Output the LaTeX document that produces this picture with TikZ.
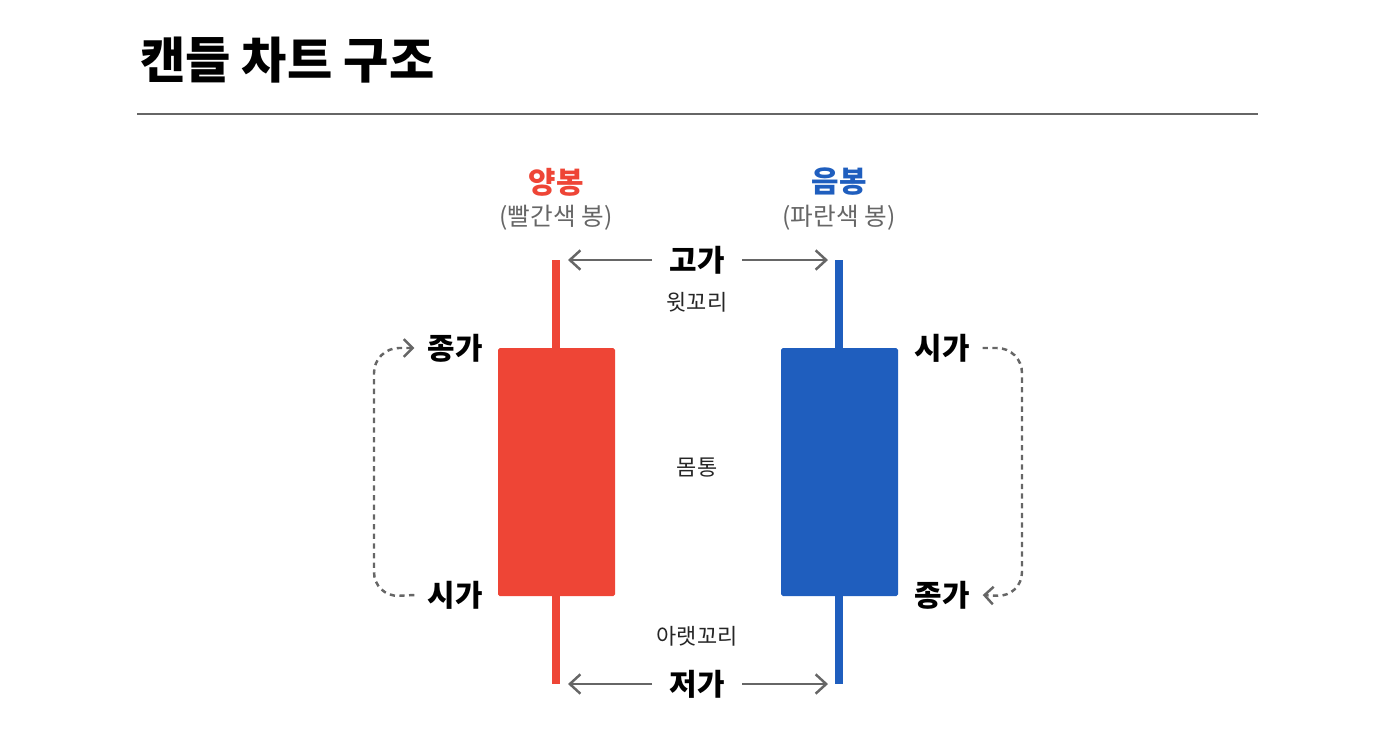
\documentclass[tikz,border=0pt]{standalone}
\usepackage{fontspec}
\newfontfamily\kr{Noto Sans CJK KR}
\usetikzlibrary{arrows.meta}
\definecolor{upc}{HTML}{EE4536}
\definecolor{dnc}{HTML}{1F5EBE}
\definecolor{lnc}{HTML}{666666}

\begin{document}
\begin{tikzpicture}[x=0.02cm, y=-0.02cm, font=\kr,
    price/.style={font=\kr\fontsize{17}{20}\selectfont\bfseries},
    part/.style={font=\kr\fontsize{12.5}{15}\selectfont, text=black!85},
    wick/.style={line width=0.16cm},
    body/.style={rounded corners=1pt},
    ptr/.style={draw=lnc, line width=1.4pt, -{Straight Barb[length=6pt,width=11pt]}},
    loop/.style={draw=lnc, line width=1.4pt, dash pattern=on 3pt off 2.5pt, rounded corners=0.5cm, -{Straight Barb[length=5pt,width=10pt]}}]

    \useasboundingbox (0,0) rectangle (1396,752);

    % title and rule
    \node[anchor=west, font=\kr\fontsize{28}{32}\selectfont\bfseries] (title) at (134,60) {캔들 차트 구조};
    \draw[lnc, line width=0.8pt] (137,114) -- (1258,114);

    % candles
    \draw[wick, upc] (556,260) -- (556,684);
    \fill[upc, body] (498,348) rectangle (615,596);
    \draw[wick, dnc] (839,260) -- (839,684);
    \fill[dnc, body] (781,348) rectangle (898,596);

    % headings
    \node[price, text=upc] (yang) at (556,182) {양봉};
    \node[part, text=lnc, font=\kr\fontsize{14}{16}\selectfont] (yangsub) at (556,218) {(빨간색 봉)};
    \node[price, text=dnc] (eum) at (839,182) {음봉};
    \node[part, text=lnc, font=\kr\fontsize{14}{16}\selectfont] (eumsub) at (839,218) {(파란색 봉)};

    % middle labels
    \node[price] (high) at (697,260) {고가};
    \node[part] (upper) at (697,302) {윗꼬리};
    \node[part] (bodytxt) at (697,468) {몸통};
    \node[part] (lower) at (697,636) {아랫꼬리};
    \node[price] (low) at (697,684) {저가};

    \coordinate (hl) at (568,260);
    \coordinate (hr) at (828,260);
    \coordinate (ll) at (568,684);
    \coordinate (lr) at (828,684);
    \draw[ptr] (652,260) -- (hl);
    \draw[ptr] (742,260) -- (hr);
    \draw[ptr] (652,684) -- (ll);
    \draw[ptr] (742,684) -- (lr);

    % open / close
    \node[price] (closeL) at (455,348) {종가};
    \node[price] (openL) at (455,595) {시가};
    \node[price] (openR) at (942,348) {시가};
    \node[price] (closeR) at (942,595) {종가};

    \draw[loop] ([xshift=-4pt]openL.west) -- (374,597) -- (374,348) -- ([xshift=-4pt]closeL.west);
    \draw[loop] ([xshift=4pt]openR.east) -- (1022,348) -- (1022,597) -- ([xshift=4pt]closeR.east);

  \end{tikzpicture}
\end{document}
